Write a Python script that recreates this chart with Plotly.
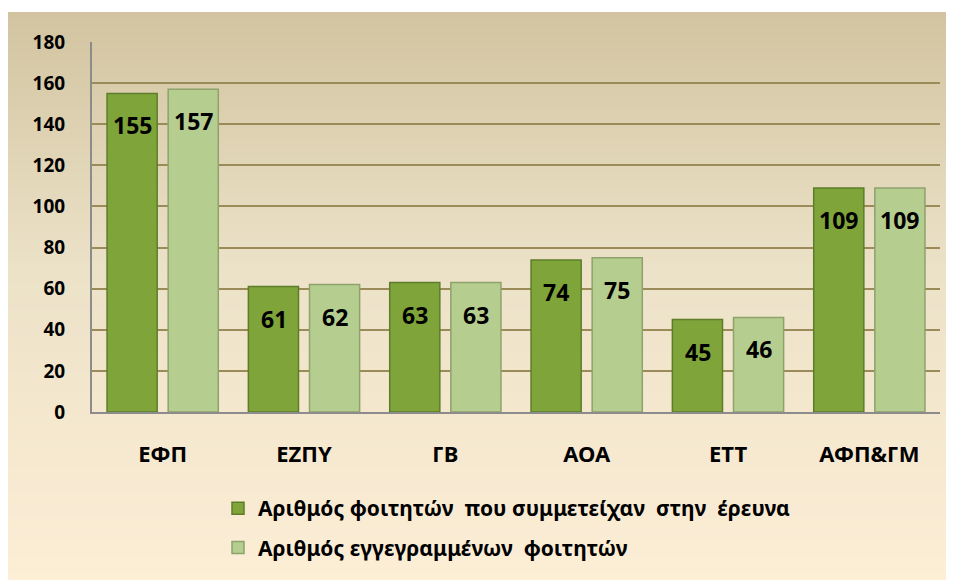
import base64
import struct
import zlib

import plotly.graph_objects as go

categories = ["ΕΦΠ", "ΕΖΠΥ", "ΓΒ", "ΑΟΑ", "ΕΤΤ", "ΑΦΠ&ΓΜ"]
participants = [155, 61, 63, 74, 45, 109]
registered = [157, 62, 63, 75, 46, 109]
series_names = [
    "Αριθμός φοιτητών  που συμμετείχαν  στην  έρευνα",
    "Αριθμός εγγεγραμμένων  φοιτητών",
]
y_ticks = [0, 20, 40, 60, 80, 100, 120, 140, 160, 180]


def gradient_png(stops, height=256):
    rows = b""
    for i in range(height):
        t = i / (height - 1)
        for j in range(len(stops) - 1):
            t0, c0 = stops[j]
            t1, c1 = stops[j + 1]
            if t0 <= t <= t1:
                f = (t - t0) / (t1 - t0) if t1 > t0 else 0
                c = [round(a + (b - a) * f) for a, b in zip(c0, c1)]
                break
        rows += b"\x00" + bytes(c)

    def chunk(tag, data):
        return struct.pack(">I", len(data)) + tag + data + struct.pack(">I", zlib.crc32(tag + data) & 0xFFFFFFFF)

    png = b"\x89PNG\r\n\x1a\n"
    png += chunk(b"IHDR", struct.pack(">IIBBBBB", 1, height, 8, 2, 0, 0, 0))
    png += chunk(b"IDAT", zlib.compress(rows))
    png += chunk(b"IEND", b"")
    return "data:image/png;base64," + base64.b64encode(png).decode()


bg = gradient_png([(0.0, (210, 196, 160)), (0.45, (236, 226, 200)), (1.0, (253, 238, 214))])

# the page body offsets the figure by 8px, so the figure is 8px smaller than the window
W, H = 946, 572
ml, mr, mt, mb = 84, 14, 34, 168
pw, ph = W - ml - mr, H - mt - mb

font_family = "Noto Sans, Open Sans, DejaVu Sans, sans-serif"

fig = go.Figure()
fig.add_trace(go.Bar(
    x=categories, y=participants, name=series_names[0],
    marker=dict(color="#7fa43a", line=dict(color="#5e7d2a", width=1.5)),
    legendgroup="a",
))
fig.add_trace(go.Bar(
    x=categories, y=registered, name=series_names[1],
    marker=dict(color="#b5ce8f", line=dict(color="#8ea26c", width=1.5)),
    legendgroup="b",
))

# value labels, placed just below the top of each bar
for vals, shift in ((participants, -30.5), (registered, 30.5)):
    for cat, v in zip(categories, vals):
        fig.add_annotation(
            x=cat, y=v, xref="x", yref="y", text=str(v), showarrow=False,
            xshift=shift, yshift=-14, yanchor="top",
            font=dict(size=23, color="black", family=font_family, weight="bold"),
        )

y_top = (H - 4 - mb) / ph
y_bot = -mb / ph

fig.add_layout_image(dict(
    source=bg, xref="paper", yref="paper",
    x=-ml / pw, y=y_top, sizex=W / pw + 0.02, sizey=y_top - y_bot + 0.01,
    xanchor="left", yanchor="top", sizing="stretch", layer="below",
))

fig.update_layout(
    width=W, height=H,
    margin=dict(l=ml, r=mr, t=mt, b=mb, autoexpand=False),
    paper_bgcolor="white",
    plot_bgcolor="rgba(0,0,0,0)",
    barmode="group",
    bargap=0.135,
    bargroupgap=0.18,
    font=dict(family=font_family, color="black"),
    showlegend=True,
    legend=dict(
        orientation="v", x=(210 - ml) / pw, xanchor="left",
        yref="container", y=1 - 480 / H, yanchor="top",
        font=dict(size=21, family=font_family, weight="bold"),
        tracegroupgap=9, itemwidth=30,
        bgcolor="rgba(0,0,0,0)",
    ),
    xaxis=dict(
        showgrid=False, showline=True, linecolor="#8c8c8c", linewidth=2,
        ticks="", ticklabelstandoff=22,
        tickfont=dict(size=22, weight="bold"),
        fixedrange=True,
    ),
    yaxis=dict(
        range=[0, 180], tickvals=y_ticks,
        showgrid=True, gridcolor="#9b8b58", gridwidth=2,
        showline=True, linecolor="#8c8c8c", linewidth=2,
        zeroline=False, ticks="", ticklabelstandoff=21,
        tickfont=dict(size=19, weight="bold"),
        fixedrange=True,
    ),
)

fig.write_html("out.html")
